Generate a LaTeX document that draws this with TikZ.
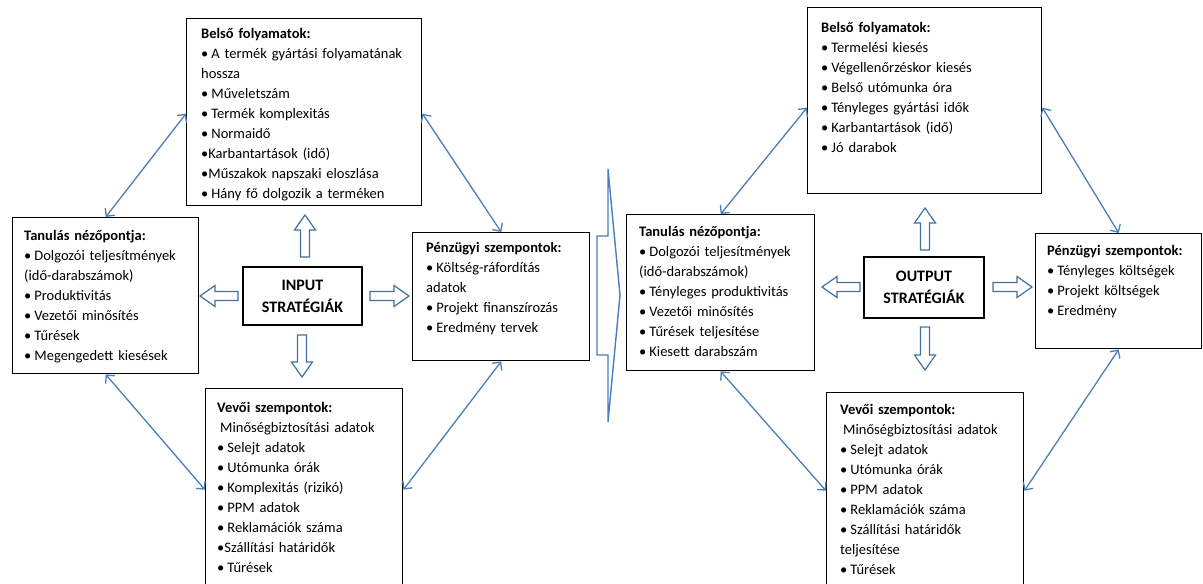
\documentclass[tikz,border=0pt]{standalone}
\usepackage{fontspec}
\setmainfont{Carlito}
\usetikzlibrary{arrows.meta,calc}
\definecolor{connblue}{HTML}{4A7EBB}
\definecolor{harrblue}{HTML}{41719C}
\newcommand{\bl}{•\hspace{3pt}}
\tikzset{
 box/.style={draw=black, line width=1.4pt, inner sep=0pt, anchor=north west, rectangle},
 txt/.style={anchor=base west, inner sep=0pt, text width=260pt, align=left, font=\fontsize{14.5}{20}\selectfont},
 conn/.style={draw=connblue, line width=1.3pt, {Straight Barb[length=6pt,width=12pt]}-{Straight Barb[length=6pt,width=12pt]}},
 hollow/.style={draw=harrblue, fill=white, line width=1.2pt, line join=miter},
 strat/.style={draw, line width=1.4pt, inner sep=0pt, align=center, font=\bfseries\fontsize{16}{22}\selectfont},
 chev/.style={draw=connblue, line width=1.4pt, line join=miter},
}
\newcommand{\harrowshape}[4]{%
 \draw[hollow, shift={(#1,#2)}, rotate=#3] (0,-4.5) -- ({#4-15},-4.5) -- ({#4-15},-10.5) -- (#4,0) -- ({#4-15},10.5) -- ({#4-15},4.5) -- (0,4.5) -- cycle;}
\begin{document}
\begin{tikzpicture}[x=1pt,y=-1pt]
\useasboundingbox (0,0) rectangle (1203,584);
% ---------- left half ----------
\node[box, minimum width=235pt, minimum height=187pt] (lb) at (186,18) {};
\node[txt] (lbt) at (201,38.5) {\textbf{Belső folyamatok:}\\
\bl A termék gyártási folyamatának\\
hossza\\
\bl Műveletszám\\
\bl Termék komplexitás\\
\bl Normaidő\\
•Karbantartások (idő)\\
•Műszakok napszaki eloszlása\\
\bl Hány fő dolgozik a terméken};

\node[box, minimum width=186pt, minimum height=156pt] (lt) at (12,217) {};
\node[txt] (ltt) at (24,240.5) {\textbf{Tanulás nézőpontja:}\\
\bl Dolgozói teljesítmények\\
(idő-darabszámok)\\
\bl Produktivitás\\
\bl Vezetői minősítés\\
\bl Tűrések\\
\bl Megengedett kiesések};

\node[box, minimum width=177pt, minimum height=128pt] (lp) at (412,232) {};
\node[txt] (lpt) at (426,252.5) {\textbf{Pénzügyi szempontok:}\\
\bl Költség-ráfordítás\\
adatok\\
\bl Projekt finanszírozás\\
\bl Eredmény tervek};

\node[box, minimum width=197pt, minimum height=202pt] (lv) at (205,388) {};
\node[txt] (lvt) at (217,412.5) {\textbf{Vevői szempontok:}\\
\hspace*{3pt}Minőségbiztosítási adatok\\
\bl Selejt adatok\\
\bl Utómunka órák\\
\bl Komplexitás (rizikó)\\
\bl PPM adatok\\
\bl Reklamációk száma\\
•Szállítási határidők\\
\bl Tűrések};

\node[strat, minimum width=119pt, minimum height=58pt] (lin) at (302.5,296) {INPUT\\STRATÉGIÁK};

\harrowshape{305}{257}{90}{42}
\harrowshape{238}{296}{180}{38}
\harrowshape{370}{296}{0}{39}
\harrowshape{302}{335}{-90}{42}

\draw[conn] ($(lb.west)+(0,1.5)$) -- (lt.north);
\draw[conn] ($(lb.east)+(0,1.5)$) -- (lp.north);
\draw[conn] (lt.south) -- (lv.west);
\draw[conn] (lp.south) -- (lv.east);

% ---------- big chevron ----------
\draw[chev] (597,236) -- (608,236) -- (608,169) -- (620,295) -- (608,422) -- (608,355) -- (597,355) -- cycle;

% ---------- right half ----------
\node[box, minimum width=234pt, minimum height=186pt] (rb) at (807,7) {};
\node[txt] (rbt) at (821,32.5) {\textbf{Belső folyamatok:}\\
\bl Termelési kiesés\\
\bl Végellenőrzéskor kiesés\\
\bl Belső utómunka óra\\
\bl Tényleges gyártási idők\\
\bl Karbantartások (idő)\\
\bl Jó darabok};

\node[box, minimum width=188pt, minimum height=156pt] (rt) at (626,214) {};
\node[txt] (rtt) at (639,236.5) {\textbf{Tanulás nézőpontja:}\\
\bl Dolgozói teljesítmények\\
(idő-darabszámok)\\
\bl Tényleges produktivitás\\
\bl Vezetői minősítés\\
\bl Tűrések teljesítése\\
\bl Kiesett darabszám};

\node[box, minimum width=166pt, minimum height=115pt] (rp) at (1035,233) {};
\node[txt] (rpt) at (1047,255.5) {\textbf{Pénzügyi szempontok:}\\
\bl Tényleges költségek\\
\bl Projekt költségek\\
\bl Eredmény};

\node[box, minimum width=197pt, minimum height=196pt] (rv) at (826,392) {};
\node[txt] (rvt) at (840,414.5) {\textbf{Vevői szempontok:}\\
\hspace*{3pt}Minőségbiztosítási adatok\\
\bl Selejt adatok\\
\bl Utómunka órák\\
\bl PPM adatok\\
\bl Reklamációk száma\\
\bl Szállítási határidők\\
teljesítése\\
\bl Tűrések};

\node[strat, minimum width=120pt, minimum height=61pt] (rout) at (924,287.5) {OUTPUT\\STRATÉGIÁK};

\harrowshape{925}{250}{90}{42}
\harrowshape{860}{287}{180}{38}
\harrowshape{993}{287}{0}{39}
\harrowshape{925}{327}{-90}{43}

\draw[conn] ($(rb.west)+(0,7)$) -- (rt.north);
\draw[conn] ($(rb.east)+(0,7)$) -- (rp.north);
\draw[conn] (rt.south) -- (rv.west);
\draw[conn] (rp.south) -- (rv.east);
\end{tikzpicture}
\end{document}
